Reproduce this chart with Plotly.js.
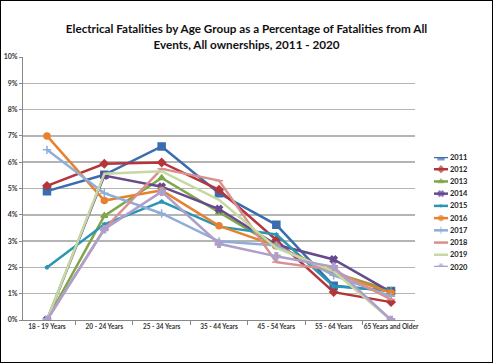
<!DOCTYPE html>
<html>
<head>
<meta charset="utf-8">
<script src="https://cdn.plot.ly/plotly-3.0.1.min.js"></script>
<style>
html,body{margin:0;padding:0;background:#fff;}
#frame{width:493px;height:363px;box-sizing:border-box;border:1px solid #000;overflow:hidden;}
#chart{width:491px;height:361px;}
</style>
</head>
<body>
<div id="frame"><div id="chart"></div></div>
<script>
const categories = ['18 - 19 Years','20 - 24 Years','25 - 34 Years','35 - 44 Years','45 - 54 Years','55 - 64 Years','65 Years and Older'];
const years = ['2011','2012','2013','2014','2015','2016','2017','2018','2019','2020'];
const y2011 = [4.9, 5.52, 6.6, 4.82, 3.62, 1.3, 1.1];
const y2012 = [5.1, 5.94, 5.99, 4.95, 3.04, 1.06, 0.68];
const y2013 = [0, 3.96, 5.4, 4.09, 2.8, 1.8, 1.12];
const y2014 = [0, 5.49, 5.07, 4.22, 2.86, 2.3, 1.06];
const y2015 = [2.0, 3.64, 4.5, 3.55, 3.25, 1.28, 1.12];
const y2016 = [7.0, 4.54, 4.93, 3.58, 2.82, 1.8, 1.03];
const y2017 = [6.47, 4.82, 4.05, 2.99, 2.83, 1.7, 0.9];
const y2018 = [0, 3.46, 5.75, 5.3, 2.2, 1.9, 0.78];
const y2019 = [0, 5.56, 5.66, 4.57, 2.74, 1.85, 0];
const y2020 = [0, 3.45, 4.88, 2.9, 2.42, 2.02, 0];
const yTickVals = [0,1,2,3,4,5,6,7,8,9,10];
const yTickLabels = ['0%','1%','2%','3%','4%','5%','6%','7%','8%','9%','10%'];

const series = [y2011,y2012,y2013,y2014,y2015,y2016,y2017,y2018,y2019,y2020];
const colors = ['#3A6DAF','#B3363A','#7FA64A','#664A8E','#2B96B3','#E8812F','#8FADD9','#D9908E','#C5D9A0','#AE9FCB'];
const symbols = ['square','diamond','triangle-up','x','star','circle','cross-thin-open','line-ew-open','circle','cross'];
const sizes = [7,6,6,6,3,6,6,6,0,6];

const traces = series.map((ys,i)=>({
  type:'scatter', mode: sizes[i] ? 'lines+markers' : 'lines',
  name: years[i], x: categories, y: ys, xaxis:'x', yaxis:'y',
  line:{color:colors[i], width:2.5},
  marker:{symbol:symbols[i], size:sizes[i], color:colors[i], line:{color:colors[i], width:1.5}}
}));

// legend entries drawn as small traces on a secondary axis pair
const legendTraces = years.map((yr,i)=>({
  type:'scatter', mode:'lines+markers', x:[0,1,2], y:[i,i,i], xaxis:'x2', yaxis:'y2',
  line:{color:colors[i], width:2.5},
  marker:{symbol:symbols[i], size:[0, Math.max(sizes[i]-1,0), 0], color:colors[i], line:{color:colors[i], width:1.2}},
  hoverinfo:'skip'
}));
const legendLabels = years.map((yr,i)=>({
  xref:'x2', yref:'y2', x:2, y:i, text:'<b>'+yr+'</b>', showarrow:false, xanchor:'left', yanchor:'middle', xshift:0,
  font:{size:7.5, color:'#222', family:'Lato, sans-serif'}
}));

const W = 491, H = 361, ML = 22, MT = 56, MB = 42;
const PW = W - ML, PH = H - MT - MB;
const px = v => (v - 1 - ML) / PW;       // frame px -> paper x
const py = v => (H - MB - (v - 1)) / PH; // frame px -> paper y

const layout = {
  width:W, height:H,
  margin:{l:ML, r:0, t:MT, b:MB, autoexpand:false},
  paper_bgcolor:'#fff', plot_bgcolor:'rgba(0,0,0,0)',
  font:{family:'Lato, "Open Sans", sans-serif', color:'#222'},
  title:{text:'<b>Electrical Fatalities by Age Group as a Percentage of Fatalities from All<br>Events, All ownerships, 2011 - 2020</b>',
    font:{size:11.7, color:'#111', family:'Lato, sans-serif'}, x:0.5, xref:'container', xanchor:'center', y:0.91, yanchor:'top'},
  xaxis:{type:'category', domain:[0, px(415)], tickson:'boundaries', ticks:'outside', ticklen:4, tickcolor:'#888',
    showline:true, linecolor:'#888', linewidth:1, showgrid:false, automargin:false,
    tickfont:{size:6.5, color:'#333', family:'Lato, sans-serif', weight:'bold'}, tickangle:0},
  yaxis:{range:[0,10], tickvals:yTickVals, ticktext:yTickLabels, ticks:'outside', ticklen:3, tickcolor:'#888',
    showline:true, linecolor:'#888', linewidth:1, gridcolor:'#B4B4B4', gridwidth:1.5, zeroline:false, automargin:false,
    tickfont:{size:7, color:'#333', family:'Lato, sans-serif', weight:'bold'}},
  xaxis2:{domain:[px(434), px(448)], range:[0,2], visible:false, anchor:'y2', fixedrange:true},
  yaxis2:{domain:[py(267), py(157)], range:[9,0], visible:false, anchor:'x2', fixedrange:true},
  annotations: legendLabels,
  showlegend:false
};
Plotly.newPlot('chart', traces.concat(legendTraces), layout, {staticPlot:true});
</script>
</body>
</html>
